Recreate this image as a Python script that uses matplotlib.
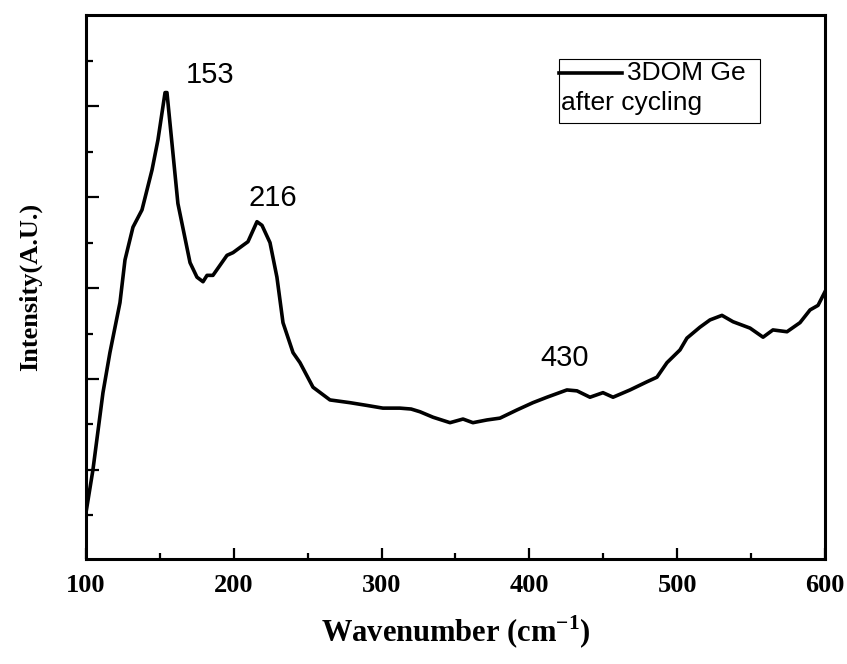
import matplotlib.pyplot as plt
from matplotlib.patches import Rectangle
from matplotlib.lines import Line2D

# Raman spectrum (intensity in arbitrary units)
wavenumber = [100, 104.7, 111.5, 116.2, 123.0, 126.4, 131.8, 137.9, 144.7, 148.7,
              153.5, 154.8, 162.2, 170.4, 175.1, 179.2, 181.9, 185.9, 195.4, 199.5,
              206.2, 209.6, 215.7, 219.1, 224.5, 229.2, 233.3, 240.1, 244.8, 253.6,
              265.1, 278.6, 290.0, 300.9, 312.4, 320.0, 326.0, 334.8, 346.3, 355.1,
              361.8, 371.3, 380.1, 391.6, 402.4, 411.9, 425.4, 432.2, 441.0, 449.8,
              456.6, 468.1, 479.6, 486.3, 493.1, 501.9, 506.6, 515.4, 522.2, 530.3,
              537.8, 549.3, 558.1, 564.8, 574.3, 583.1, 589.9, 595.3, 600]
intensity = [0.53, 1.00, 1.85, 2.29, 2.84, 3.31, 3.67, 3.86, 4.30, 4.63,
             5.15, 5.15, 3.93, 3.28, 3.12, 3.07, 3.14, 3.14, 3.36, 3.39,
             3.47, 3.51, 3.73, 3.69, 3.50, 3.12, 2.62, 2.29, 2.18, 1.91,
             1.77, 1.74, 1.71, 1.68, 1.68, 1.67, 1.64, 1.58, 1.52, 1.56,
             1.52, 1.55, 1.57, 1.66, 1.74, 1.80, 1.88, 1.87, 1.80, 1.85,
             1.80, 1.88, 1.97, 2.02, 2.18, 2.32, 2.45, 2.57, 2.65, 2.70,
             2.63, 2.56, 2.46, 2.54, 2.52, 2.62, 2.76, 2.81, 2.96]

peak_labels = ['153', '216', '430']
peak_pos = [(184, 5.34), (226.5, 3.99), (424, 2.23)]

serif = 'Liberation Serif'
sans = 'Liberation Sans'
plt.rcParams['mathtext.fontset'] = 'custom'
plt.rcParams['mathtext.rm'] = 'Liberation Serif:bold'
plt.rcParams['mathtext.bf'] = 'Liberation Serif:bold'

fig = plt.figure(figsize=(8.47, 6.64), dpi=100)
ax = fig.add_axes([0.1015, 0.158, 0.8725, 0.819])

ax.plot(wavenumber, intensity, color='black', linewidth=2.6)

for lab, (px, py) in zip(peak_labels, peak_pos):
    ax.text(px, py, lab, fontsize=21, family=sans, ha='center', va='center')

# legend box drawn by hand
ax.add_patch(Rectangle((0.640, 0.802), 0.272, 0.117, transform=ax.transAxes,
                       fill=False, edgecolor='black', linewidth=0.8))
ax.add_line(Line2D([0.640, 0.725], [0.893, 0.893], transform=ax.transAxes,
                   color='black', linewidth=2.6))
ax.text(0.732, 0.893, '3DOM Ge', transform=ax.transAxes, fontsize=19,
        family=sans, va='center', ha='left')
ax.text(0.643, 0.838, 'after cycling', transform=ax.transAxes, fontsize=19,
        family=sans, va='center', ha='left')

ax.set_xlim(100, 600)
ax.set_ylim(0.02, 6.0)
ax.set_xticks([100, 200, 300, 400, 500, 600])
ax.set_xticks([150, 250, 350, 450, 550], minor=True)
ax.set_yticks([1, 2, 3, 4, 5])
ax.set_yticks([0.5, 1.5, 2.5, 3.5, 4.5, 5.5], minor=True)
ax.set_yticklabels([])
ax.tick_params(which='both', direction='in', width=1.6, top=False, right=False)
ax.tick_params(axis='y', which='major', length=9.5)
ax.tick_params(axis='y', which='minor', length=5)
ax.tick_params(axis='x', which='major', length=8, pad=11)
ax.tick_params(axis='x', which='minor', length=4.5)
for t in ax.get_xticklabels():
    t.set_fontfamily(serif)
    t.set_fontweight('bold')
    t.set_fontsize(19)
for s in ax.spines.values():
    s.set_linewidth(2.2)

ax.set_xlabel(r'Wavenumber (cm$^{-1}$)', fontsize=22, family=serif,
              fontweight='bold', labelpad=12)
ax.set_ylabel('Intensity(A.U.)', fontsize=19, family=serif,
              fontweight='bold', labelpad=28)

plt.savefig('out.png', dpi=100)
